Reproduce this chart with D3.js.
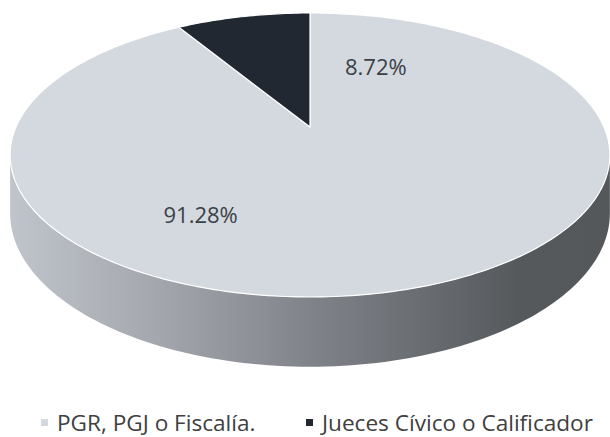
<!DOCTYPE html>
<html>
<head>
<meta charset="utf-8">
<script src="https://d3js.org/d3.v7.min.js"></script>
<style>
  body { margin: 0; background: #fff; }
  svg { display: block; font-family: "Open Sans", "Noto Sans", sans-serif; }
</style>
</head>
<body>
<div id="chart"></div>
<script>
var categories = ["PGR, PGJ o Fiscalía.", "Jueces Cívico o Calificador"];
var values = [91.28, 8.72];
var valueLabels = ["91.28%", "8.72%"];
var colors = ["#d4d9e0", "#222831"];

var svgWidth = 610;
var svgHeight = 437;

// projection of the tilted disc (perspective)
var cx = 310, cy = 127;
var rx = 294, ry = 136.5, k = 0.197, depth = 56;

// where the percentage labels sit, in disc coords (deg clockwise from top, radius)
var labelSpots = [{ a: 210, r: 0.66 }, { a: 27, r: 0.54 }];

function project(a, r, down) {
  var u = r * Math.sin(a), w = r * Math.cos(a);
  var d = 1 + k * w;
  return [cx + rx * u / d, cy - ry * w / d + (down ? depth / d : 0)];
}

var svg = d3.select("#chart")
  .append("svg")
  .attr("width", svgWidth)
  .attr("height", svgHeight);

var defs = svg.append("defs");
var grad = defs.append("linearGradient")
  .attr("id", "side")
  .attr("gradientUnits", "userSpaceOnUse")
  .attr("x1", 10).attr("x2", 610).attr("y1", 0).attr("y2", 0);
[[0, "#c0c4cb"], [0.25, "#a3a6ad"], [0.5, "#808389"], [0.72, "#65686d"], [0.85, "#56595c"], [1, "#55585b"]]
  .forEach(function(s) {
    grad.append("stop").attr("offset", s[0]).attr("stop-color", s[1]);
  });

var pie = d3.pie().sort(null).value(function(d) { return d; });
var arcs = pie(values);

var line = d3.line();
var chart = svg.append("g");

// side wall: only the near half is visible
var visL = Math.acos(-k), visR = 2 * Math.PI - Math.acos(-k);
arcs.forEach(function(s, i) {
  var a0 = Math.max(s.startAngle, visL), a1 = Math.min(s.endAngle, visR);
  if (a1 <= a0) return;
  var top = d3.range(0, 121).map(function(j) { return project(a0 + (a1 - a0) * j / 120, 1, false); });
  var bot = d3.range(120, -1, -1).map(function(j) { return project(a0 + (a1 - a0) * j / 120, 1, true); });
  chart.append("path")
    .attr("d", line(top.concat(bot)) + "Z")
    .attr("fill", i === 0 ? "url(#side)" : "#15181d");
});

// top face slices
chart.selectAll(".slice")
  .data(arcs)
  .enter().append("path")
    .attr("class", "slice")
    .attr("d", function(s) {
      var n = Math.max(8, Math.ceil((s.endAngle - s.startAngle) * 60));
      var pts = [project(0, 0, false)];
      for (var j = 0; j <= n; j++) {
        pts.push(project(s.startAngle + (s.endAngle - s.startAngle) * j / n, 1, false));
      }
      return line(pts) + "Z";
    })
    .attr("fill", function(s, i) { return colors[i]; })
    .attr("stroke", "#ffffff")
    .attr("stroke-width", 1.2)
    .attr("stroke-linejoin", "round");

// value labels
chart.selectAll(".lbl")
  .data(arcs)
  .enter().append("text")
    .attr("class", "lbl")
    .attr("x", function(s, i) { return project(labelSpots[i].a * Math.PI / 180, labelSpots[i].r, false)[0]; })
    .attr("y", function(s, i) { return project(labelSpots[i].a * Math.PI / 180, labelSpots[i].r, false)[1]; })
    .attr("dy", "0.35em")
    .attr("text-anchor", "middle")
    .attr("font-size", 22)
    .attr("fill", "#3b4047")
    .text(function(s, i) { return valueLabels[i]; });

// legend
var legendX = [41, 306];
var legend = svg.append("g").attr("transform", "translate(0,423)");
var item = legend.selectAll(".item")
  .data(categories)
  .enter().append("g")
    .attr("class", "item")
    .attr("transform", function(d, i) { return "translate(" + legendX[i] + ",0)"; });
item.append("rect")
  .attr("x", 0).attr("y", -4)
  .attr("width", 7).attr("height", 7)
  .attr("fill", function(d, i) { return colors[i]; });
item.append("text")
  .attr("x", 16)
  .attr("y", 0)
  .attr("dy", "0.35em")
  .attr("font-size", 22.6)
  .attr("fill", "#404040")
  .text(function(d) { return d; });
</script>
</body>
</html>
